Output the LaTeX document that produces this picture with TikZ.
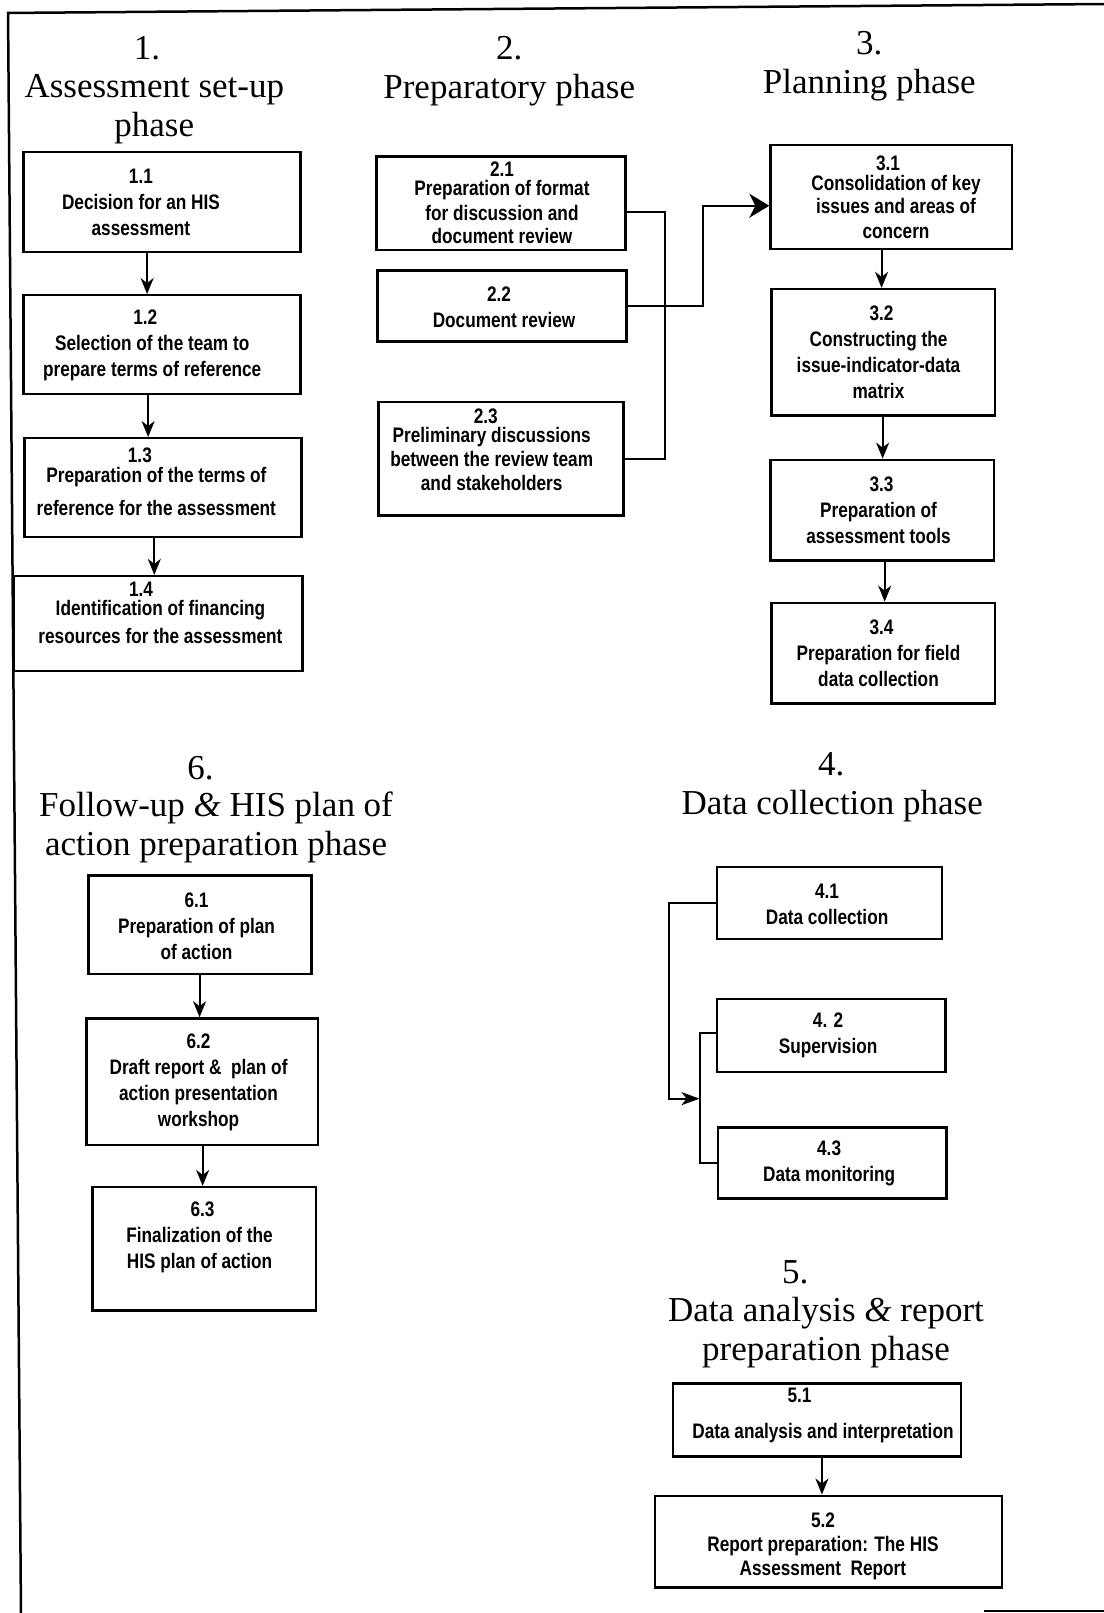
\documentclass[tikz,border=0pt]{standalone}
\usepackage{fontspec}
\setmainfont{Liberation Serif}
\newfontfamily\bxfont[FakeStretch=0.82]{Liberation Sans}
\usetikzlibrary{fit,arrows.meta}
\tikzset{
  bx/.style={draw, line width=2.4pt, inner sep=0pt},
  tx/.style={align=center, inner sep=0pt, font=\bxfont\bfseries\fontsize{21}{26}\selectfont},
  ttl/.style={align=center, inner sep=0pt, font=\fontsize{35}{39}\selectfont},
  con/.style={line width=2pt},
  arr/.style={con, -{Stealth[length=16pt,width=13pt,inset=5pt]}},
  arrfour/.style={con, -{Stealth[length=18pt,width=13pt,inset=5pt]}},
  arrbig/.style={con, -{Stealth[length=20pt,width=24pt,inset=6pt]}},
  frame/.style={line width=2.5pt},
}
\begin{document}
\begin{tikzpicture}[x=1.0289pt,y=-1.0289pt]
\useasboundingbox (0,0) rectangle (1073,1568);
% frame
\draw[frame] (1073,3.9) -- (7.8,12.6) -- (20.4,1568);
\draw[frame] (957,1566) -- (1073,1566);

% titles
\node[ttl] (n1) at (143,47) {1.};
\node[ttl] (T1) at (150,106) {Assessment set-up\\phase};
\node[ttl] (n2) at (495,47) {2.};
\node[ttl] (T2) at (495,88) {Preparatory phase};
\node[ttl] (n3) at (845,42) {3.};
\node[ttl] (T3) at (845,83) {Planning phase};
\node[ttl] (n6) at (195,747) {6.};
\node[ttl] (T6) at (210,804.5) {Follow-up \textit{\&} HIS plan of\\action preparation phase};
\node[ttl] (n4) at (808,743) {4.};
\node[ttl] (T4) at (809,784) {Data collection phase};
\node[ttl] (n5) at (773,1237) {5.};
\node[ttl] (T5) at (803,1295) {Data analysis \textit{\&} report\\preparation phase};

% boxes
\node[bx, fit={(23,148)(292,245)}] (b11) {};
\node[bx, fit={(23,287)(292,383)}] (b12) {};
\node[bx, fit={(24,426)(293,522)}] (b13) {};
\node[bx, fit={(13,560)(294,652)}] (b14) {};
\node[bx, fit={(366,152)(608,243)}] (b21) {};
\node[bx, fit={(367,263)(609,332)}] (b22) {};
\node[bx, fit={(368,391)(606,501)}] (b23) {};
\node[bx, fit={(749,141)(984,242)}] (b31) {};
\node[bx, fit={(750,281)(967,404)}] (b32) {};
\node[bx, fit={(749,447)(966,545)}] (b33) {};
\node[bx, fit={(750,586)(967,684)}] (b34) {};
\node[bx, fit={(86,851)(303,947)}] (b61) {};
\node[bx, fit={(84,990)(309,1113)}] (b62) {};
\node[bx, fit={(90,1154)(307,1274)}] (b63) {};
\node[bx, fit={(697,843)(916,913)}] (b41) {};
\node[bx, fit={(697,971)(919,1042)}] (b42) {};
\node[bx, fit={(698,1096)(920,1165)}] (b43) {};
\node[bx, fit={(654,1345)(934,1416)}] (b51) {};
\node[bx, fit={(637,1454)(974,1543)}] (b52) {};

% box texts
\node[tx] (t11) at (137,196.5) {1.1\\Decision for an HIS\\assessment};
\node[tx] (t12) at (148,336) {\hspace*{-14pt}1.2\\Selection of the team to\\prepare terms of reference};
\node[tx] (t13) at (152,468.5) {\hspace*{-33pt}1.3\\[-6.5pt]Preparation of the terms of\\[7pt]reference for the assessment};
\node[tx] (t14) at (156,596) {\hspace*{-39pt}1.4\\[-6.5pt]Identification of financing\\[2pt]resources for the assessment};
\node[tx] (t21) at (488,197) {2.1\\[-6.5pt]Preparation of format\\[-1.5pt]for discussion and\\[-2.5pt]document review};
\node[tx] (t22) at (490,299) {\hspace*{-10pt}2.2\\Document review};
\node[tx] (t23) at (478,437) {\hspace*{-12pt}2.3\\[-6.5pt]Preliminary discussions\\[-2.5pt]between the review team\\[-1.5pt]and stakeholders};
\node[tx] (t31) at (871,192) {\hspace*{-16pt}3.1\\[-6.5pt]Consolidation of key\\[-2.5pt]issues and areas of\\[-1.5pt]concern};
\node[tx] (t32) at (854,342.5) {\hspace*{6pt}3.2\\Constructing the\\issue-indicator-data\\matrix};
\node[tx] (t33) at (854,496) {\hspace*{6pt}3.3\\Preparation of\\assessment tools};
\node[tx] (t34) at (854,635) {\hspace*{6pt}3.4\\Preparation for field\\data collection};
\node[tx] (t61) at (191,900) {6.1\\Preparation of plan\\of action};
\node[tx] (t62) at (193,1052) {6.2\\Draft report \&\ \ plan of\\action presentation\\workshop};
\node[tx] (t63) at (194,1202.5) {\hspace*{6pt}6.3\\Finalization of the\\HIS plan of action};
\node[tx] (t41) at (804,879) {4.1\\Data collection};
\node[tx] (t42) at (805,1006.5) {4. 2\\Supervision};
\node[tx] (t43) at (806,1131) {4.3\\Data monitoring};
\node[tx] (t51) at (800,1375.5) {\hspace*{-47pt}5.1\\[10pt]Data analysis and interpretation};
\node[tx] (t52) at (800,1503.5) {5.2\\[-2pt]Report preparation: The HIS\\[-2pt]Assessment\ \ Report};

% vertical arrow columns
\coordinate (x11) at (143,0);
\coordinate (x12) at (144,0);
\coordinate (x13) at (150,0);
\coordinate (x31) at (857,0);
\coordinate (x32) at (858,0);
\coordinate (x33) at (860,0);
\coordinate (x61) at (194,0);
\coordinate (x62) at (197,0);
\coordinate (x51) at (799,0);
\draw[arr] (b11.south -| x11) -- (b12.north -| x11);
\draw[arr] (b12.south -| x12) -- (b13.north -| x12);
\draw[arr] (b13.south -| x13) -- (b14.north -| x13);
\draw[arr] (b31.south -| x31) -- (b32.north -| x31);
\draw[arr] (b32.south -| x32) -- (b33.north -| x32);
\draw[arr] (b33.south -| x33) -- (b34.north -| x33);
\draw[arr] (b61.south -| x61) -- (b62.north -| x61);
\draw[arr] (b62.south -| x62) -- (b63.north -| x62);
\draw[arr] (b51.south -| x51) -- (b52.north -| x51);

% phase 2 connectors
\coordinate (j2) at (646,206);
\coordinate (j3) at (683,200);
\draw[con] (b21.east |- j2) -- (j2) |- (b23.east);
\draw[arrbig] (b22.east) -| (j3) -- (b31.west |- j3);

% phase 4 connectors
\coordinate (j4) at (650,878);
\coordinate (m4) at (680,1068);
\coordinate (j5) at (680,1004);
\draw[arrfour] (b41.west |- j4) -- (j4) |- (m4);
\draw[con] (b42.west |- j5) -- (j5) |- (b43.west);
\end{tikzpicture}
\end{document}
